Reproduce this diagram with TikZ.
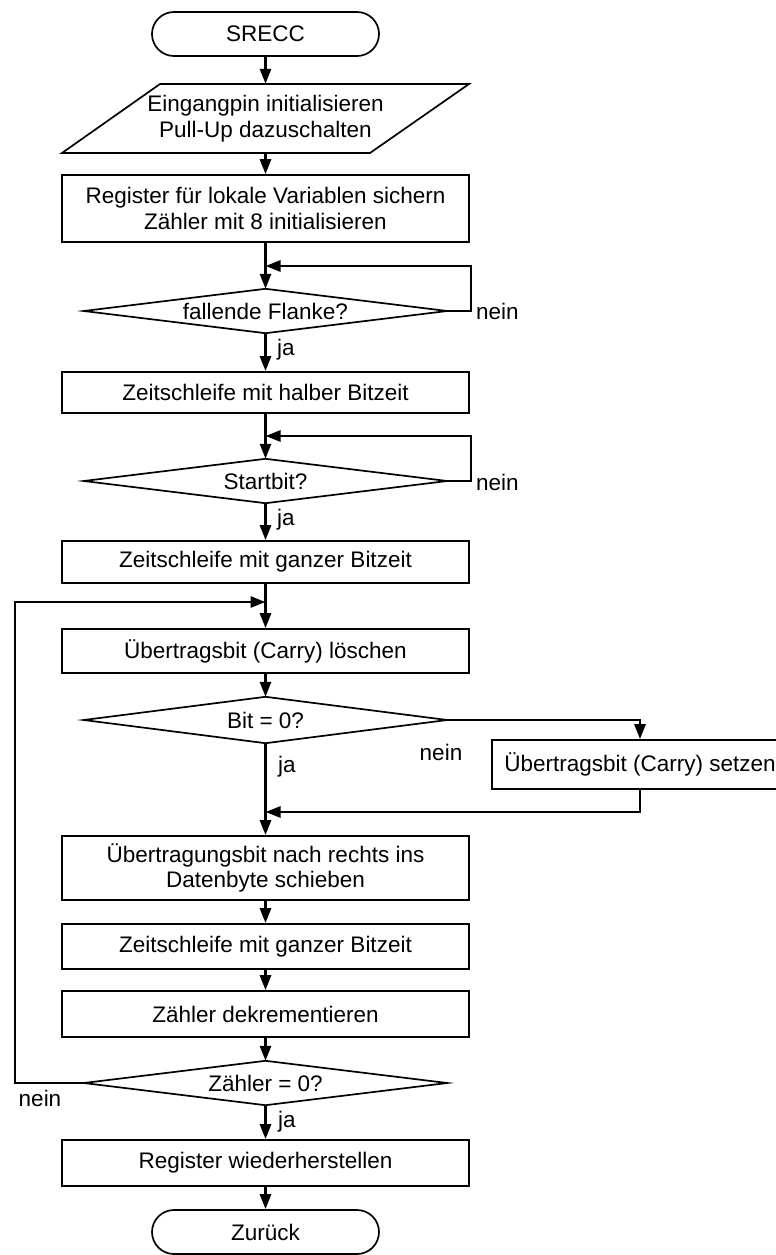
\documentclass[tikz,border=0pt]{standalone}
\usepackage{fontspec}
\setmainfont{Liberation Sans}
\usetikzlibrary{arrows.meta,shapes.misc}
\newcommand\mainfs{\fontsize{22.5}{25.5}\selectfont}
\begin{document}
\begin{tikzpicture}[x=1pt,y=-1pt,
  every node/.style={font=\mainfs},
  box/.style={draw, line width=1.7pt, minimum width=407pt, inner sep=0pt, align=center},
  term/.style={draw, rounded rectangle, line width=1.7pt, minimum width=227pt, minimum height=44pt, inner sep=0pt},
  dia/.style={minimum width=363pt, minimum height=44pt, inner sep=0pt, align=center},
  diaborder/.style={line width=1.7pt},
  flow/.style={line width=2.8pt, -{Triangle[width=11pt,length=15pt]}},
  lab/.style={inner sep=0pt}
]
\useasboundingbox (0,0) rectangle (776,1255);

% nodes
\node[term] (start) at (265.5,34) {SRECC};
\node[minimum width=309pt, minimum height=69pt, inner sep=0pt, align=center] (io) at (265.5,118.5) {Eingangpin initialisieren\\Pull-Up dazuschalten};
\draw[line width=1.7pt] (160,84) -- (469,84) -- (370,153) -- (62,153) -- cycle;
\node[box, minimum height=67pt] (b1) at (265.5,208.5) {Register für lokale Variablen sichern\\Zähler mit 8 initialisieren};
\node[dia] (d1) at (265.5,311) {fallende Flanke?};
\node[box, minimum height=41pt] (b2) at (265.5,392.5) {Zeitschleife mit halber Bitzeit};
\node[dia] (d2) at (265.5,481) {Startbit?};
\node[box, minimum height=42pt] (b3) at (265.5,562) {Zeitschleife mit ganzer Bitzeit};
\node[box, minimum height=44pt] (b4) at (265.5,651) {Übertragsbit (Carry) löschen};
\node[dia, minimum height=46pt] (d3) at (265.5,720) {Bit = 0?};
\node[box, minimum width=296pt, minimum height=49pt] (b5) at (640,764.5) {Übertragsbit (Carry) setzen};
\node[box, minimum height=64pt] (b6) at (265.5,868) {Übertragungsbit nach rechts ins\\Datenbyte schieben};
\node[box, minimum height=45pt] (b7) at (265.5,946.5) {Zeitschleife mit ganzer Bitzeit};
\node[box, minimum height=46pt] (b8) at (265.5,1014) {Zähler dekrementieren};
\node[dia] (d4) at (265.5,1083) {Zähler = 0?};
\node[box, minimum height=46pt] (b9) at (265.5,1163) {Register wiederherstellen};
\node[term] (end) at (265.5,1232) {Zurück};

% diamond borders
\foreach \d in {d1,d2,d3,d4}
  \draw[diaborder] (\d.west) -- (\d.north) -- (\d.east) -- (\d.south) -- cycle;

% helper coordinates
\coordinate (c1) at (265.5,266);
\coordinate (r1) at (471,311);
\coordinate (c2) at (265.5,436);
\coordinate (r2) at (471,481);
\coordinate (c3) at (265.5,812);
\coordinate (c4) at (265.5,602);
\coordinate (l4) at (15,1083);

% connectors
\draw[flow] (start) -- (io);
\draw[flow] (io) -- (b1);
\draw[flow] (b1) -- (d1.north);
\draw[flow] (d1.east) -- (r1) |- (c1);
\draw[flow] (d1.south) -- (b2);
\draw[flow] (b2) -- (d2.north);
\draw[flow] (d2.east) -- (r2) |- (c2);
\draw[flow] (d2.south) -- (b3);
\draw[flow] (b3) -- (b4);
\draw[flow] (b4) -- (d3.north);
\draw[flow] (d3.east) -| (b5.north);
\draw[flow] (b5.south) |- (c3);
\draw[flow] (d3.south) -- (b6);
\draw[flow] (b6) -- (b7);
\draw[flow] (b7) -- (b8);
\draw[flow] (b8) -- (d4.north);
\draw[flow] (d4.west) -- (l4) |- (c4);
\draw[flow] (d4.south) -- (b9);
\draw[flow] (b9) -- (end);

% labels
\node[lab, anchor=west] (n1) at (476,311) {nein};
\node[lab, anchor=west] (j1) at (277,350) {ja};
\node[lab, anchor=west] (n2) at (476,482) {nein};
\node[lab, anchor=west] (j2) at (277,520) {ja};
\node[lab] (n3) at (441,752) {nein};
\node[lab, anchor=west] (j3) at (278,767) {ja};
\node[lab] (n4) at (40,1098) {nein};
\node[lab, anchor=west] (j4) at (278,1122) {ja};
\end{tikzpicture}
\end{document}
